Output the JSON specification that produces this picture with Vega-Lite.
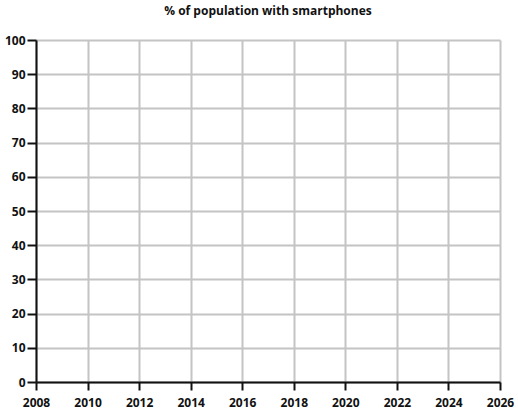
{
  "$schema": "https://vega.github.io/schema/vega-lite/v6.json",
  "width": 464,
  "height": 342,
  "autosize": {"type": "none"},
  "padding": {"left": 36, "top": 40, "right": 18, "bottom": 35},
  "background": "white",
  "title": {
    "text": "% of population with smartphones",
    "font": "Open Sans",
    "fontSize": 12,
    "fontWeight": "bold",
    "color": "#111",
    "offset": 16
  },
  "data": {"values": [
    {"year": 2008, "percent": null},
    {"year": 2026, "percent": null}
  ]},
  "mark": {"type": "point", "opacity": 0},
  "encoding": {
    "x": {
      "field": "year", "type": "quantitative",
      "scale": {"domain": [2008, 2026], "nice": false, "zero": false},
      "axis": {
        "title": null, "values": [2008, 2010, 2012, 2014, 2016, 2018, 2020, 2022, 2024, 2026],
        "format": "d", "grid": true, "gridColor": "#c4c4c4", "gridWidth": 2, "gridOpacity": 1,
        "domainColor": "#111", "domainWidth": 2, "tickColor": "#111", "tickWidth": 2, "tickSize": 8,
        "labelFont": "Open Sans", "labelFontWeight": "bold", "labelFontSize": 12, "labelColor": "#111",
        "labelPadding": 7, "labelFlush": false
      }
    },
    "y": {
      "field": "percent", "type": "quantitative",
      "scale": {"domain": [0, 100], "nice": false},
      "axis": {
        "title": null, "values": [0, 10, 20, 30, 40, 50, 60, 70, 80, 90, 100],
        "grid": true, "gridColor": "#c4c4c4", "gridWidth": 2, "gridOpacity": 1,
        "domainColor": "#111", "domainWidth": 2, "tickColor": "#111", "tickWidth": 2, "tickSize": 9,
        "labelFont": "Open Sans", "labelFontWeight": "bold", "labelFontSize": 12, "labelColor": "#111",
        "labelPadding": 2, "labelFlush": false
      }
    }
  },
  "config": {"view": {"stroke": null}}
}
